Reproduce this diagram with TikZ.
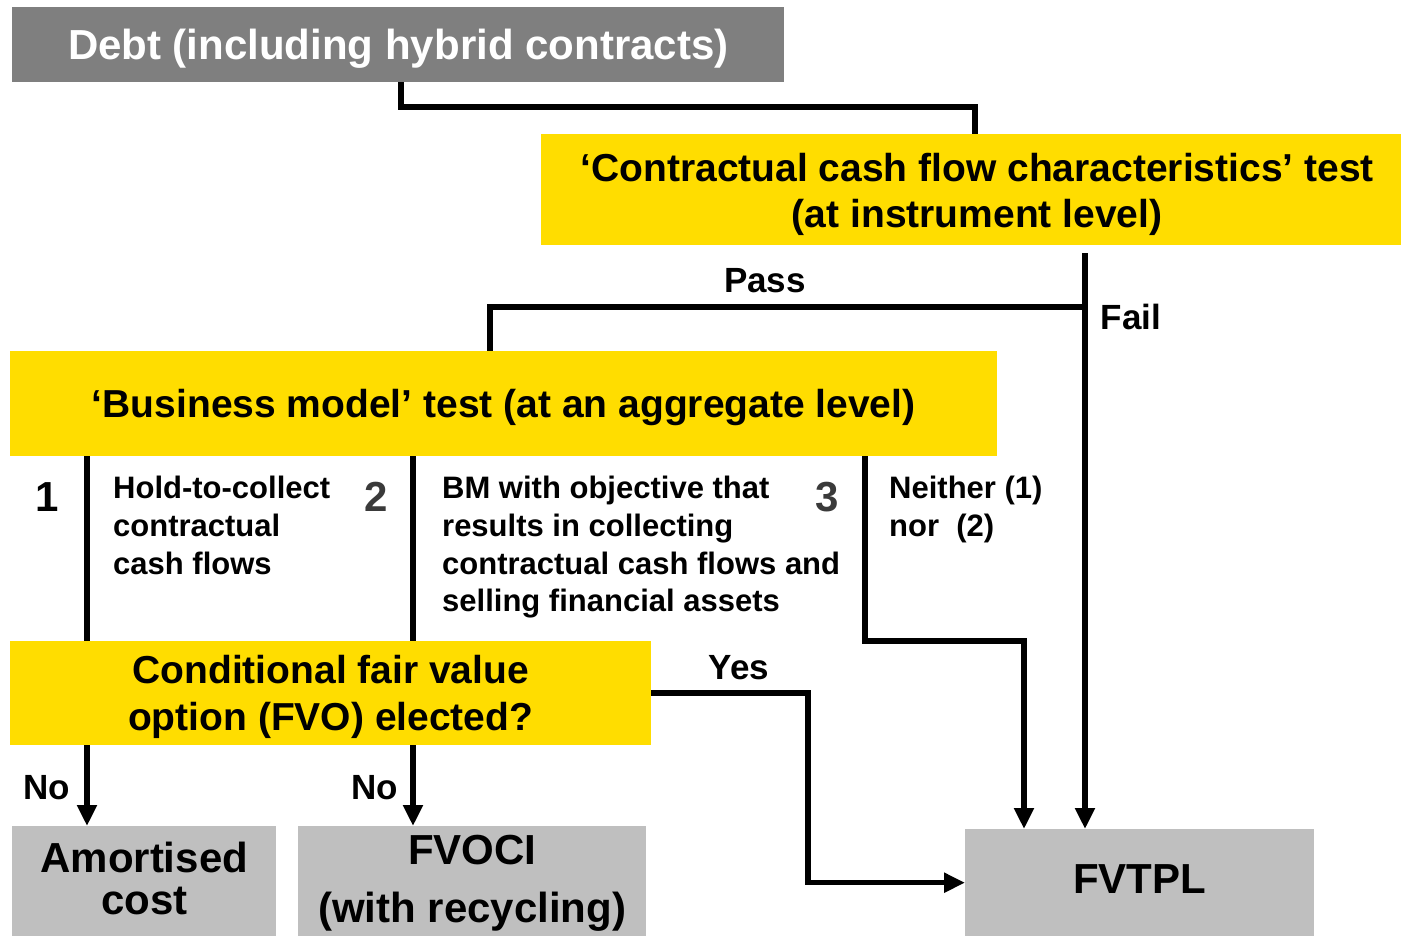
\documentclass[tikz,border=0pt]{standalone}
\usepackage{fontspec}
\setmainfont{Liberation Sans}
\usetikzlibrary{arrows.meta}
\definecolor{testyellow}{HTML}{FFDD00}
\definecolor{resultgrey}{HTML}{BFBFBF}
\definecolor{sourcegrey}{HTML}{7F7F7F}
\definecolor{numgrey}{HTML}{3A3A3A}
\begin{document}
\begin{tikzpicture}[x=1pt,y=-1pt,
  panel/.style={anchor=north west, inner sep=0pt},
  testbox/.style={panel, fill=testyellow},
  resultbox/.style={panel, fill=resultgrey},
  sourcebox/.style={panel, fill=sourcegrey},
  testtext/.style={inner sep=0pt, align=center, font=\bfseries\fontsize{39}{46.5}\selectfont},
  resulttext/.style={inner sep=0pt, align=center, font=\bfseries\fontsize{42}{42}\selectfont},
  sourcetext/.style={inner sep=0pt, align=center, text=white, font=\bfseries\fontsize{42}{48}\selectfont},
  note/.style={anchor=north west, inner sep=0pt, align=left, font=\bfseries\fontsize{31}{37.7}\selectfont},
  tag/.style={inner sep=0pt, font=\bfseries\fontsize{35}{40}\selectfont},
  num/.style={inner sep=0pt, font=\bfseries\fontsize{42}{48}\selectfont},
  conn/.style={line width=5.5pt},
  arr/.style={conn, -{Triangle[length=21pt,width=19pt]}}
]
\useasboundingbox (0,0) rectangle (1401,936);

% boxes, each with its caption set at the centre
\node[sourcebox, minimum width=772, minimum height=75,
  label={[sourcetext, yshift=-4pt]center:Debt (including hybrid contracts)}] (debt) at (12,7) {};
\node[testbox, minimum width=860, minimum height=111,
  label={[testtext, xshift=6pt, yshift=-4.5pt]center:{‘Contractual cash flow characteristics’ test\\(at instrument level)}}] (ccc) at (541,134) {};
\node[testbox, minimum width=987, minimum height=105,
  label={[testtext, yshift=-4pt]center:{‘Business model’ test (at an aggregate level)}}] (bm) at (10,351) {};
\node[testbox, minimum width=641, minimum height=104,
  label={[testtext, yshift=-3.5pt]center:{Conditional fair value\\option (FVO) elected?}}] (fvo) at (10,641) {};
\node[resultbox, minimum width=264, minimum height=110,
  label={[resulttext, yshift=2.5pt]center:{Amortised\\cost}}] (amort) at (12,826) {};
\node[resultbox, minimum width=348, minimum height=110,
  label={[resulttext, yshift=-2pt]center:{FVOCI\\[16pt](with recycling)}}] (fvoci) at (298,826) {};
\node[resultbox, minimum width=349, minimum height=107,
  label={[resulttext, yshift=4pt]center:FVTPL}] (fvtpl) at (965,829) {};

% branch columns
\coordinate (xdebt) at (401,0);
\coordinate (xccc) at (975,0);
\coordinate (xfail) at (1085,0);
\coordinate (xpass) at (490,0);
\coordinate (split) at (1085,307);
\coordinate (xone) at (87,0);
\coordinate (xtwo) at (413,0);
\coordinate (xthree) at (865,0);
\coordinate (bendthree) at (1024,641);
\coordinate (xyes) at (808,0);

% connectors
\draw[conn] (debt.south -| xdebt) -- (xdebt |- 0,107) -- (xccc |- 0,107) -- (ccc.north -| xccc);
\draw[arr, shorten <=8pt] (ccc.south -| xfail) -- (fvtpl.north -| xfail);
\draw[conn] (split) -- (split -| xpass) -- (bm.north -| xpass);
\draw[conn] (bm.south -| xone) -- (fvo.north -| xone);
\draw[arr] (fvo.south -| xone) -- (amort.north -| xone);
\draw[conn] (bm.south -| xtwo) -- (fvo.north -| xtwo);
\draw[arr] (fvo.south -| xtwo) -- (fvoci.north -| xtwo);
\draw[arr] (bm.south -| xthree) |- (bendthree) -- (fvtpl.north -| bendthree);
\draw[arr] (fvo.east) -- (fvo.east -| xyes) -- (xyes |- fvtpl.west) -- (fvtpl.west);

% labels
\node[tag] (pass) at (765,281) {Pass};
\node[tag] (fail) at (1131,317) {Fail};
\node[tag] (yes) at (739,668) {Yes};
\node[tag] (noone) at (47,788) {No};
\node[tag] (notwo) at (375,788) {No};

\node[num] (n1) at (47,497) {1};
\node[num, text=numgrey] (n2) at (376,497) {2};
\node[num, text=numgrey] (n3) at (827,497) {3};

\node[note] (htc) at (113,476) {Hold-to-collect\\contractual\\cash flows};
\node[note] (htcs) at (442,476) {BM with objective that\\results in collecting\\contractual cash flows and\\selling financial assets};
\node[note] (neither) at (889,476) {Neither (1)\\nor~\ (2)};
\end{tikzpicture}
\end{document}
